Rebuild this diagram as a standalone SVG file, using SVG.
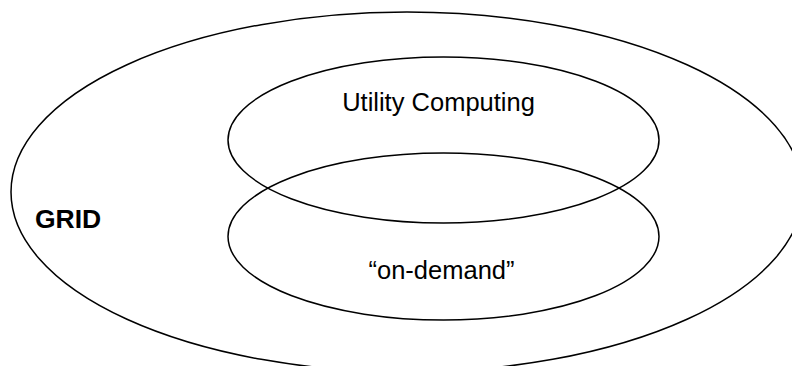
<svg xmlns="http://www.w3.org/2000/svg" width="792" height="366" viewBox="0 0 792 366">
<style>
.e{fill:none;stroke:#000;stroke-width:1.5}
.t{font-family:"Liberation Sans",Arial,sans-serif;font-size:25.5px;fill:#000}
.b{font-weight:bold;font-size:26.5px}
</style>
<rect width="792" height="366" fill="#fff"/>
<g id="grid">
<ellipse class="e" cx="407" cy="192" rx="396" ry="180"/>
<text class="t b" x="35" y="228">GRID</text>
</g>
<g id="utility">
<ellipse class="e" cx="443.5" cy="140" rx="215.5" ry="83"/>
<text class="t" x="438.5" y="111" text-anchor="middle">Utility Computing</text>
</g>
<g id="ondemand">
<ellipse class="e" cx="443.5" cy="236.5" rx="215.5" ry="83.5"/>
<text class="t" x="441.5" y="279" text-anchor="middle">“on-demand”</text>
</g>
<g id="connectors"/>
</svg>
